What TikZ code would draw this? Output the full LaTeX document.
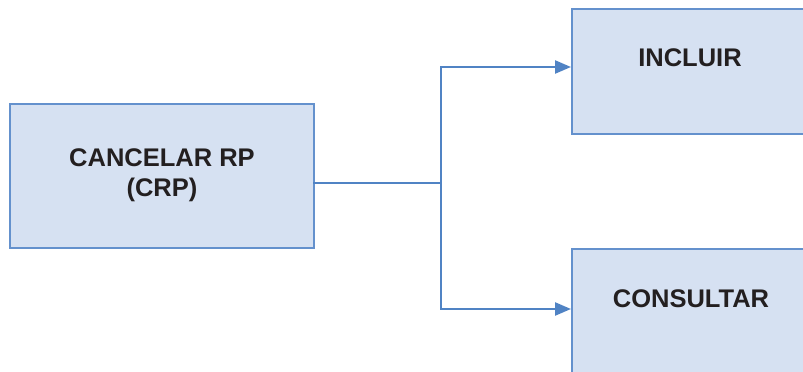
\documentclass[tikz,border=0pt]{standalone}
\usepackage{fontspec}
\setmainfont{Liberation Sans}
\usetikzlibrary{arrows.meta}
\definecolor{boxfill}{RGB}{214,225,242}
\definecolor{boxline}{RGB}{100,145,205}
\definecolor{linkblue}{RGB}{80,131,196}
\definecolor{txt}{RGB}{35,31,32}

\begin{document}
\begin{tikzpicture}[x=1pt,y=-1pt,
    blockbox/.style={draw=boxline,fill=boxfill,line width=2pt,inner sep=0pt,anchor=north west},
    blocktext/.style={text=txt,font=\bfseries\fontsize{25.5}{30}\selectfont,align=center,inner sep=0pt},
    link/.style={draw=linkblue,line width=2.4pt}]
  \useasboundingbox (0,0) rectangle (803,372);
  \clip (0,0) rectangle (803,372);
      \node[blockbox,minimum width=304pt,minimum height=144pt] (crp) at (9,103) {};
      \node[blockbox,minimum width=238pt,minimum height=125pt] (inc) at (571,8) {};
      \node[blockbox,minimum width=238pt,minimum height=125pt] (con) at (571,248) {};
      \node[blocktext] (crptxt) at (162,175) {CANCELAR RP\\(CRP)};
      \node[blocktext] (inctxt) at (690,58) {INCLUIR};
      \node[blocktext] (contxt) at (691,299) {CONSULTAR};
      \coordinate (out) at (313,183);
      \coordinate (split) at (441,183);
      \coordinate (incin) at (571,67);
      \coordinate (conin) at (571,309);
    \draw[link] (out) -- (split);
    \draw[link,-{Triangle[length=16pt,width=13pt]}] (split) |- (incin);
    \draw[link,-{Triangle[length=16pt,width=13pt]}] (split) |- (conin);
    \end{tikzpicture}
\end{document}
